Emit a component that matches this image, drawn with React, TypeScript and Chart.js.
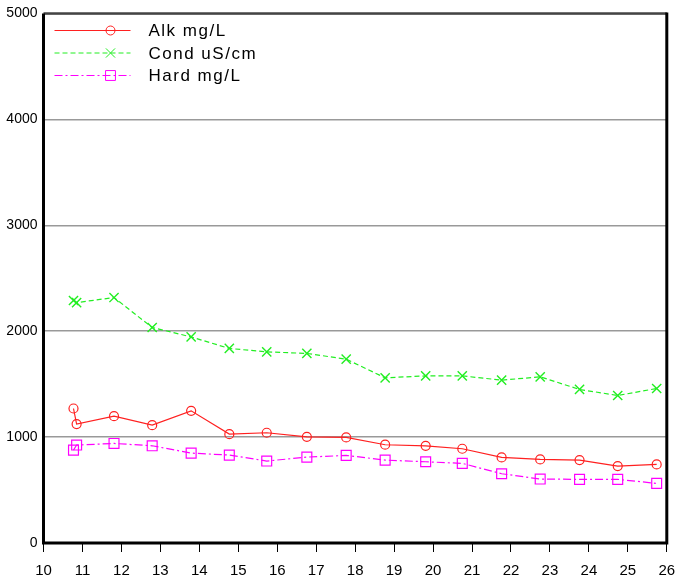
import React, { useEffect, useRef } from "react";
import { Chart, registerables } from "chart.js";
import { drawPoint } from "chart.js/helpers";

Chart.register(...registerables);

const xValues = [10.77, 10.85, 11.81, 12.79, 13.79, 14.77, 15.73, 16.76, 17.77, 18.77, 19.81, 20.75, 21.76, 22.75, 23.76, 24.74, 25.74];
const alkValues = [1270, 1123, 1198, 1113, 1248, 1028, 1041, 1003, 997, 928, 918, 890, 808, 789, 783, 726, 742];
const condValues = [2290, 2270, 2318, 2035, 1946, 1837, 1805, 1790, 1736, 1560, 1578, 1578, 1538, 1569, 1450, 1393, 1459];
const hardValues = [877, 925, 940, 918, 849, 830, 774, 811, 827, 783, 767, 752, 654, 604, 601, 601, 563];
const seriesLabels = ["Alk mg/L", "Cond uS/cm", "Hard mg/L"];
const xTicks = [10, 11, 12, 13, 14, 15, 16, 17, 18, 19, 20, 21, 22, 23, 24, 25, 26];
const yTicks = [0, 1000, 2000, 3000, 4000, 5000];

const FONT = "'Liberation Sans Narrow', 'Liberation Sans', Arial, sans-serif";

const toPoints = (ys: number[]) => ys.map((y, i) => ({ x: xValues[i], y }));

const framePlugin = {
  id: "frame",
  afterDraw(chart: any) {
    const { ctx, chartArea } = chart;
    const { left, right, top, bottom } = chartArea;
    ctx.save();
    // top border
    ctx.strokeStyle = "#444";
    ctx.lineWidth = 2.5;
    ctx.beginPath();
    ctx.moveTo(left, top);
    ctx.lineTo(right, top);
    ctx.stroke();
    // left, bottom, right
    ctx.strokeStyle = "#000";
    ctx.lineWidth = 3;
    ctx.beginPath();
    ctx.moveTo(left, top);
    ctx.lineTo(left, bottom);
    ctx.lineTo(right, bottom);
    ctx.lineTo(right, top - 1);
    ctx.stroke();

    // legend
    const ds = chart.data.datasets;
    ds.forEach((d: any, i: number) => {
      const y = top + 17 + i * 22.5;
      const x0 = left + 11;
      const x1 = left + 87;
      const mx = left + 67;
      ctx.strokeStyle = d.borderColor;
      ctx.lineWidth = 1;
      ctx.setLineDash(d.borderDash || []);
      ctx.beginPath();
      ctx.moveTo(x0, y);
      ctx.lineTo(x1, y);
      ctx.stroke();
      ctx.setLineDash([]);
      ctx.fillStyle = "rgba(0,0,0,0)";
      drawPoint(ctx, {
        pointStyle: d.pointStyle,
        radius: d.pointRadius,
        borderWidth: 1,
        rotation: 0,
      } as any, mx, y);
      ctx.fillStyle = "#000";
      ctx.font = "17px 'Liberation Sans', Arial, sans-serif";
      (ctx as any).letterSpacing = "1.5px";
      ctx.textBaseline = "middle";
      ctx.textAlign = "left";
      ctx.fillText(d.label, left + 105, y + 1);
      (ctx as any).letterSpacing = "0px";
    });
    ctx.restore();
  },
};

export default function App() {
  const ref = useRef<HTMLCanvasElement | null>(null);
  useEffect(() => {
    document.body.style.margin = "0";
    const canvas = ref.current!;
    const chart = new Chart(canvas, {
      type: "line",
      data: {
        datasets: [
          {
            label: seriesLabels[0],
            data: toPoints(alkValues),
            borderColor: "#ff2020",
            backgroundColor: "rgba(0,0,0,0)",
            borderWidth: 1.2,
            pointStyle: "circle",
            pointRadius: 4.5,
            pointBorderWidth: 1.2,
            pointBorderColor: "#ff2020",
            pointBackgroundColor: "rgba(0,0,0,0)",
            tension: 0,
          },
          {
            label: seriesLabels[1],
            data: toPoints(condValues),
            borderColor: "#22ee22",
            backgroundColor: "rgba(0,0,0,0)",
            borderWidth: 1.2,
            borderDash: [5, 3],
            pointStyle: "crossRot",
            pointRadius: 6.5,
            pointBorderWidth: 1.4,
            pointBorderColor: "#22ee22",
            pointBackgroundColor: "rgba(0,0,0,0)",
            tension: 0,
          },
          {
            label: seriesLabels[2],
            data: toPoints(hardValues),
            borderColor: "#ff00ff",
            backgroundColor: "rgba(0,0,0,0)",
            borderWidth: 1.2,
            borderDash: [8, 3, 2, 3],
            pointStyle: "rect",
            pointRadius: 7,
            pointBorderWidth: 1.2,
            pointBorderColor: "#ff00ff",
            pointBackgroundColor: "rgba(0,0,0,0)",
            tension: 0,
          },
        ],
      },
      options: {
        responsive: false,
        animation: false,
        layout: { padding: { left: 0, right: 8, top: 13.5, bottom: 0 } },
        plugins: {
          legend: { display: false },
          tooltip: { enabled: false },
        },
        scales: {
          x: {
            type: "linear",
            min: 10,
            max: 26,
            afterBuildTicks: (scale: any) => {
              scale.ticks = xTicks.map((v) => ({ value: v }));
            },
            afterFit: (scale: any) => {
              scale.height = 42;
              scale.paddingLeft = 0;
              scale.paddingRight = 0;
            },
            border: { display: false },
            grid: {
              drawOnChartArea: false,
              drawTicks: true,
              tickLength: 9,
              tickColor: "#000",
              tickWidth: 1,
            },
            ticks: {
              color: "#000",
              font: { family: FONT, size: 15 },
              padding: 10,
              maxRotation: 0,
              autoSkip: false,
              callback: (v: any) => String(v),
            },
          },
          y: {
            type: "linear",
            min: 0,
            max: 5000,
            afterBuildTicks: (scale: any) => {
              scale.ticks = yTicks.map((v) => ({ value: v }));
            },
            afterFit: (scale: any) => {
              scale.width = 43.5;
              scale.paddingTop = 0;
              scale.paddingBottom = 0;
            },
            border: { display: false },
            grid: {
              drawTicks: false,
              color: "#999",
              lineWidth: 1.5,
            },
            ticks: {
              color: "#000",
              font: { family: FONT, size: 14 },
              padding: 6,
              callback: (v: any) => String(v),
            },
          },
        },
      },
      plugins: [framePlugin],
    });
    return () => chart.destroy();
  }, []);
  return <canvas ref={ref} width={675} height={585} style={{ display: "block" }} />;
}
